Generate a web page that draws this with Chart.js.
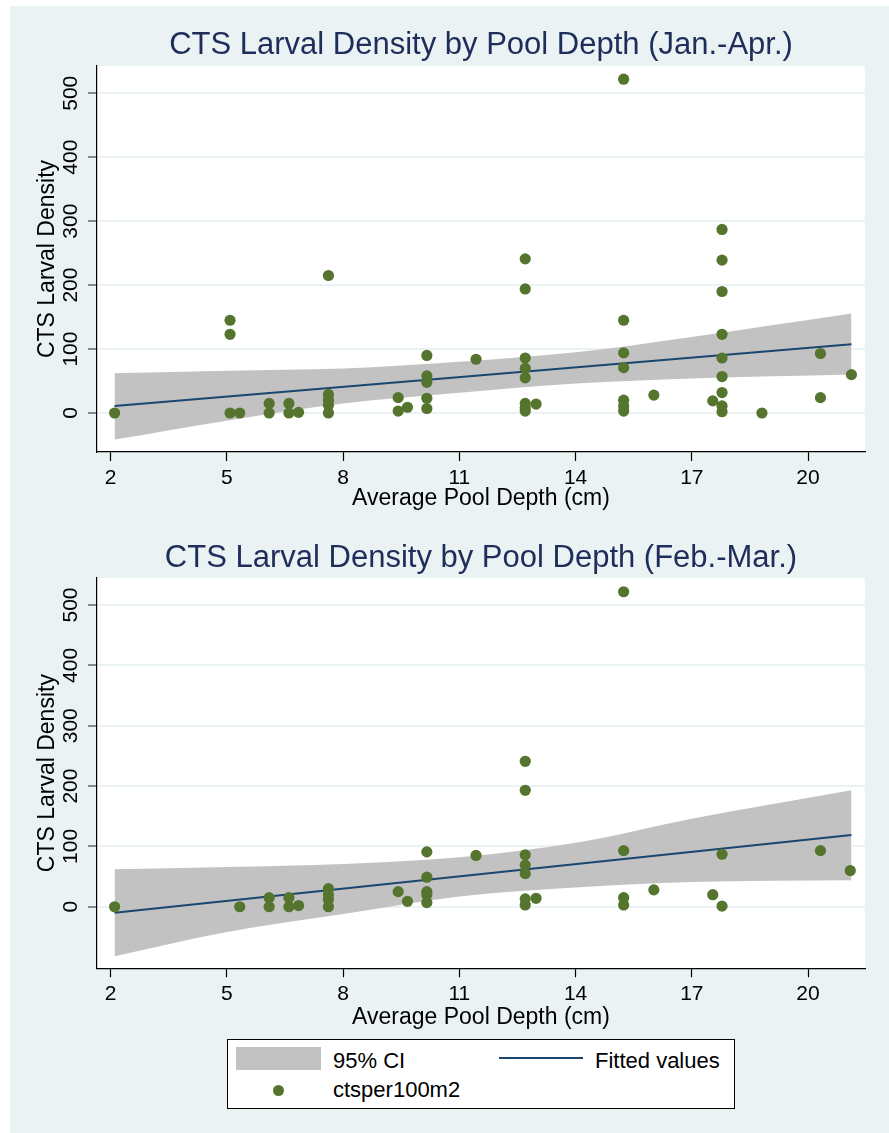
<!DOCTYPE html>
<html>
<head>
<meta charset="utf-8">
<script src="https://cdn.jsdelivr.net/npm/chart.js@4.4.1/dist/chart.umd.min.js"></script>
<style>
  html, body { margin: 0; padding: 0; background: #ffffff; }
  #bg { position: absolute; left: 10px; top: 6px; width: 879px; height: 1127px; background: #eaf2f3; }
  canvas { position: absolute; left: 0; }
  #c1 { top: 0; }
  #c2 { top: 520px; }
  #legend { position: absolute; left: 227px; top: 1039px; width: 506px; height: 68px; border: 1px solid #000; background: #fff;
            font-family: "Liberation Sans", Arial, sans-serif; font-size: 22px; color: #000; }
  #legend div { position: absolute; }
  .lt { line-height: 26px; white-space: nowrap; }
</style>
</head>
<body>
<div id="bg"></div>
<canvas id="c1" width="889" height="520"></canvas>
<canvas id="c2" width="889" height="613"></canvas>
<div id="legend">
  <div style="left:8px;top:7px;width:85px;height:23px;background:#c2c2c2;"></div>
  <div class="lt" style="left:105px;top:8px;">95% CI</div>
  <div style="left:271px;top:17px;width:84px;height:2px;background:#1a476f;"></div>
  <div class="lt" style="left:367px;top:8px;">Fitted values</div>
  <div style="left:45px;top:45px;width:11px;height:11px;border-radius:50%;background:#55752f;"></div>
  <div class="lt" style="left:105px;top:37px;">ctsper100m2</div>
</div>
<script>
// ---------- data: Jan.-Apr. ----------
const depthJanApr = [2.1, 5.08, 5.08, 5.08, 5.33, 6.09, 6.09, 6.6, 6.6, 6.85,
  7.62, 7.62, 7.62, 7.62, 7.62, 9.42, 9.42, 9.66, 10.16, 10.16, 10.16, 10.16, 10.16,
  11.43, 12.7, 12.7, 12.7, 12.7, 12.7, 12.7, 12.7, 12.7, 12.98,
  15.24, 15.24, 15.24, 15.24, 15.24, 15.24, 15.24, 16.02, 17.54,
  17.78, 17.78, 17.78, 17.78, 17.78, 17.78, 17.78, 17.78, 17.78, 18.81, 20.32, 20.32, 21.12];
const densityJanApr = [0, 145, 123, 0, 0, 15, 0, 15, 0, 1,
  215, 29, 20, 12, 0, 24, 3, 9, 90, 58, 48, 23, 7,
  84, 241, 194, 86, 70, 55, 15, 8, 3, 14,
  522, 145, 94, 71, 20, 11, 3, 28, 19,
  287, 239, 190, 123, 86, 57, 32, 11, 2, 0, 93, 24, 60];
const fitXJanApr = [2.1, 21.12];
const fitYJanApr = [11, 107.5];
const ciXJanApr = [2.1, 5, 8, 11, 14, 17, 21.12];
const ciUpperJanApr = [62, 66, 69.5, 80, 95, 119, 155.5];
const ciLowerJanApr = [-41.6, -12, 14.7, 31.5, 46, 54, 60];

// ---------- data: Feb.-Mar. ----------
const depthFebMar = [2.1, 5.33, 6.09, 6.09, 6.6, 6.6, 6.85, 7.62, 7.62, 7.62, 7.62,
  9.42, 9.66, 10.16, 10.16, 10.16, 10.16, 10.16, 11.43,
  12.7, 12.7, 12.7, 12.7, 12.7, 12.7, 12.7, 12.98,
  15.24, 15.24, 15.24, 15.24, 16.02, 17.54, 17.78, 17.78, 20.32, 21.09];
const densityFebMar = [0, 0, 15, 0, 15, 0, 2, 30, 20, 12, 0,
  25, 9, 91, 49, 25, 20, 7, 85,
  241, 193, 86, 69, 55, 13, 3, 14,
  522, 93, 15, 3, 28, 20, 87, 1, 93, 60];
const fitXFebMar = [2.1, 21.12];
const fitYFebMar = [-10, 118.8];
const ciXFebMar = [2.1, 5, 8, 11, 14, 17, 21.12];
const ciUpperFebMar = [62, 66, 71, 82, 106, 146, 193];
const ciLowerFebMar = [-82, -42, -12, 17, 32, 41, 44];

// ---------- axes ----------
const xTicks = [2, 5, 8, 11, 14, 17, 20];
const yTicks = [0, 100, 200, 300, 400, 500];
const titles = ['CTS Larval Density by Pool Depth (Jan.-Apr.)', 'CTS Larval Density by Pool Depth (Feb.-Mar.)'];
const xTitle = 'Average Pool Depth (cm)';
const yTitle = 'CTS Larval Density';

const FONT = '"Liberation Sans", Arial, sans-serif';
const zip = (xs, ys) => xs.map((x, i) => ({ x: x, y: ys[i] }));

const plotBg = {
  id: 'plotBg',
  beforeDraw(chart) {
    const a = chart.chartArea, ctx = chart.ctx;
    ctx.save(); ctx.fillStyle = '#ffffff';
    ctx.fillRect(a.left, a.top, a.right - a.left, a.bottom - a.top);
    ctx.restore();
  }
};
const yTickLabels = {
  id: 'yTickLabels',
  afterDraw(chart) {
    const s = chart.scales.y, ctx = chart.ctx;
    ctx.save();
    ctx.font = '21px ' + FONT; ctx.fillStyle = '#000';
    ctx.textAlign = 'center'; ctx.textBaseline = 'middle';
    s.ticks.forEach(t => {
      const py = s.getPixelForValue(t.value);
      ctx.save(); ctx.translate(chart.chartArea.left - 25.6, py); ctx.rotate(-Math.PI / 2);
      ctx.fillText(String(t.value), 0, 0); ctx.restore();
    });
    ctx.restore();
  }
};

function build(id, c) {
  return new Chart(document.getElementById(id), {
    type: 'scatter',
    data: {
      datasets: [
        { label: 'ctsper100m2', data: zip(c.xs, c.ys), pointRadius: 5.6, pointBorderWidth: 0,
          pointBackgroundColor: '#55752f', borderColor: '#55752f' },
        { type: 'line', label: 'Fitted values', data: zip(c.fx, c.fy), borderColor: '#1a476f', borderWidth: 2,
          pointRadius: 0, fill: false },
        { type: 'line', label: '95% CI', data: zip(c.cx, c.cu), borderWidth: 0, borderColor: 'rgba(0,0,0,0)',
          backgroundColor: '#c2c2c2', pointRadius: 0, fill: '+1', cubicInterpolationMode: 'monotone' },
        { type: 'line', label: 'lower', data: zip(c.cx, c.cl), borderWidth: 0, borderColor: 'rgba(0,0,0,0)',
          pointRadius: 0, fill: false, cubicInterpolationMode: 'monotone' }
      ]
    },
    options: {
      responsive: false, animation: false,
      layout: { padding: { left: 0, right: 24, top: 0, bottom: c.padBottom } },
      plugins: {
        legend: { display: false }, tooltip: { enabled: false },
        title: { display: true, text: c.title, fullSize: false, color: '#1e2d5a',
                 font: { family: FONT, size: 31, weight: 'normal', lineHeight: 1.2 },
                 padding: { top: c.titleTop, bottom: c.titleBottom } }
      },
      scales: {
        x: { type: 'linear', min: 1.646, max: 21.47,
             afterBuildTicks: s => { s.ticks = xTicks.map(v => ({ value: v })); },
             afterFit: s => { s.height = 68; },
             grid: { drawOnChartArea: false, tickLength: 9, tickColor: '#000', tickWidth: 1.2 },
             border: { color: '#000', width: 1.2 },
             ticks: { color: '#000', font: { family: FONT, size: 21 }, padding: 4.4, maxRotation: 0, autoSkip: false },
             title: { display: true, text: xTitle, color: '#000', font: { family: FONT, size: 23, lineHeight: 1.2 },
                      padding: { top: 0, bottom: c.xTitlePad } } },
        y: { type: 'linear', min: c.ymin, max: c.ymax,
             afterBuildTicks: s => { s.ticks = yTicks.map(v => ({ value: v })); },
             afterFit: s => { s.width = 97; },
             grid: { color: '#eaf2f3', lineWidth: 2, tickLength: 9, tickColor: '#444', tickWidth: 1.2 },
             border: { color: '#000', width: 1.2 },
             ticks: { display: false },
             title: { display: true, text: yTitle, color: '#000', font: { family: FONT, size: 23, lineHeight: 1.2 },
                      padding: { top: 34.2, bottom: 0 } } }
      }
    },
    plugins: [plotBg, yTickLabels]
  });
}

build('c1', { xs: depthJanApr, ys: densityJanApr, fx: fitXJanApr, fy: fitYJanApr,
  cx: ciXJanApr, cu: ciUpperJanApr, cl: ciLowerJanApr, title: titles[0],
  ymin: -61, ymax: 542.6, padBottom: 0, titleTop: 26.4, titleBottom: 2.4, xTitlePad: 7.4 });
build('c2', { xs: depthFebMar, ys: densityFebMar, fx: fitXFebMar, fy: fitYFebMar,
  cx: ciXFebMar, cu: ciUpperFebMar, cl: ciLowerFebMar, title: titles[1],
  ymin: -102, ymax: 544.8, padBottom: 96.7, titleTop: 20.1, titleBottom: 0.7, xTitlePad: 4.5 });
</script>
</body>
</html>
